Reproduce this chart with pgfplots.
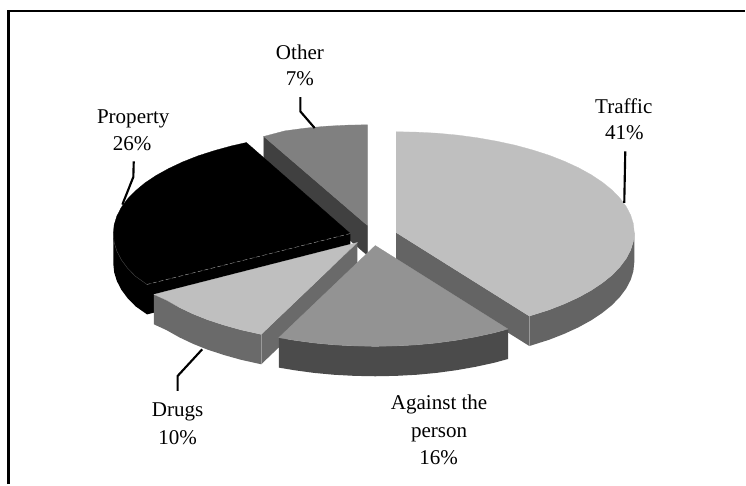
\documentclass[border=0pt]{standalone}
\usepackage{pgfplots}
\usepackage{fontspec}
\setmainfont{Liberation Serif}
\pgfplotsset{compat=1.18}
\definecolor{lightTop}{HTML}{BFBFBF}
\definecolor{midTop}{HTML}{939393}
\definecolor{otherTop}{HTML}{808080}
\definecolor{trafficRim}{HTML}{646464}
\definecolor{personRim}{HTML}{4B4B4B}
\definecolor{drugsRim}{HTML}{6A6A6A}
\definecolor{otherCut}{HTML}{404040}
\definecolor{edgeGrey}{HTML}{9A9A9A}
\begin{document}
\begin{tikzpicture}
\begin{axis}[
  scale only axis, width=559.5pt, height=363.75pt,
  xmin=0, xmax=746, ymin=0, ymax=485, y dir=reverse,
  hide axis, clip=false, no markers,
  every axis plot/.append style={forget plot},
]
% Slices are stacked from back to front: Other, Traffic, Property, Drugs, Against the person.

% --- Other, 7% ---
\addplot[fill=otherCut, draw=otherCut, line width=0.2pt] coordinates {(264.3,136.7)(368.3,226)(368.3,256)(264.3,166.7)} -- cycle;
\addplot[fill=otherTop, draw=otherTop, line width=0.2pt] coordinates {
 (368.3,226)(264.3,136.7)(285.5,131.1)(305.7,128.4)(326.3,126.5)(347.2,125.4)(368.3,125)} -- cycle;

% --- Traffic, 41% ---
\addplot[fill=trafficRim, draw=none] coordinates {(397,233)(530.4,316.7)(530.4,346.7)(397,263)} -- cycle;
\addplot[fill=trafficRim, draw=none] coordinates {
 (635.5,233)(634.6,241.8)(631.9,250.5)(627.4,259.1)(621.1,267.5)(613.2,275.7)(603.5,283.5)(592.4,290.9)
 (579.7,297.9)(565.6,304.4)(550.3,310.4)(530.4,316.7)
 (530.4,346.7)(550.3,340.4)(565.6,334.4)(579.7,327.9)(592.4,320.9)(603.5,313.5)(613.2,305.7)(621.1,297.5)
 (627.4,289.1)(631.9,280.5)(634.6,271.8)(635.5,263)} -- cycle;
\addplot[draw=edgeGrey, line width=0.4pt] coordinates {(530.4,316.7)(530.4,346.7)};
\addplot[fill=lightTop, draw=lightTop, line width=0.2pt] coordinates {
 (397,233)(397,132)(417.8,132.4)(438.4,133.5)(458.7,135.4)(478.6,138.1)(497.8,141.5)(516.3,145.5)(533.8,150.3)
 (550.3,155.6)(565.6,161.6)(579.7,168.1)(592.4,175.1)(603.5,182.5)(613.2,190.3)(621.1,198.5)(627.4,206.9)
 (631.9,215.5)(634.6,224.2)(635.5,233)(634.6,241.8)(631.9,250.5)(627.4,259.1)(621.1,267.5)(613.2,275.7)
 (603.5,283.5)(592.4,290.9)(579.7,297.9)(565.6,304.4)(550.3,310.4)(530.4,316.7)} -- cycle;

% --- Property, 26% ---
\addplot[fill=black, draw=none] coordinates {(351,234)(147.3,285)(147.3,315)(351,264)} -- cycle;
\addplot[fill=black, draw=none] coordinates {
 (113.5,234)(114.4,242.9)(117.1,251.6)(121.6,260.3)(127.8,268.7)(135.8,276.9)(147.3,285)
 (147.3,315)(135.8,306.9)(127.8,298.7)(121.6,290.3)(117.1,281.6)(114.4,272.9)(113.5,264)} -- cycle;
\addplot[fill=black, draw=black, line width=0.2pt] coordinates {
 (351,234)(147.3,285)(135.8,276.9)(127.8,268.7)(121.6,260.3)(117.1,251.6)(114.4,242.9)(113.5,234)(114.4,225.1)
 (117.1,216.4)(121.6,207.7)(127.8,199.3)(135.8,191.1)(145.3,183.2)(156.4,175.8)(169.1,168.8)(183.1,162.2)
 (198.3,156.2)(214.8,150.9)(232.2,146.1)(246.9,142.8)} -- cycle;
\addplot[draw=edgeGrey, line width=0.3pt, densely dashed] coordinates {(351,234)(147.3,285)};
\addplot[draw=otherCut, line width=0.3pt] coordinates {(113.5,234)(114.4,242.9)(117.1,251.6)(121.6,260.3)(127.8,268.7)(135.8,276.9)(147.3,285)};

% --- Drugs, 10% ---
\addplot[fill=drugsRim, draw=none] coordinates {(358,243)(261.7,335)(261.7,365)(358,273)} -- cycle;
\addplot[fill=drugsRim, draw=none] coordinates {
 (261.7,335)(241.5,330.5)(224.4,325.7)(208.2,320.4)(193.2,314.4)(179.5,307.9)(167.1,300.9)(154.3,295)
 (154.3,325)(167.1,330.9)(179.5,337.9)(193.2,344.4)(208.2,350.4)(224.4,355.7)(241.5,360.5)(261.7,365)} -- cycle;
\addplot[draw=edgeGrey, line width=0.4pt] coordinates {(261.7,335)(261.7,365)};
\addplot[fill=lightTop, draw=lightTop, line width=0.2pt] coordinates {
 (358,243)(261.7,335)(241.5,330.5)(224.4,325.7)(208.2,320.4)(193.2,314.4)(179.5,307.9)(167.1,300.9)(154.3,295)} -- cycle;

% --- Against the person, 16% ---
\addplot[fill=personRim, draw=none] coordinates {
 (509,329.7)(495,333.5)(476.6,337.5)(457.4,340.9)(437.6,343.6)(417.3,345.5)(396.7,346.6)(376,347)
 (355.3,346.6)(334.7,345.5)(314.4,343.6)(294.6,340.9)(279.3,338.3)
 (279.3,368.3)(294.6,370.9)(314.4,373.6)(334.7,375.5)(355.3,376.6)(376,377)(396.7,376.6)(417.3,375.5)
 (437.6,373.6)(457.4,370.9)(476.6,367.5)(495,363.5)(509,359.7)} -- cycle;
\addplot[fill=midTop, draw=midTop, line width=0.2pt] coordinates {
 (376,246)(509,329.7)(495,333.5)(476.6,337.5)(457.4,340.9)(437.6,343.6)(417.3,345.5)(396.7,346.6)(376,347)
 (355.3,346.6)(334.7,345.5)(314.4,343.6)(294.6,340.9)(279.3,338.3)} -- cycle;

% --- Leader lines ---
\addplot[black, line width=1.6pt] coordinates {(626.5,151.7)(625.5,203.3)};
\addplot[black, line width=1.6pt] coordinates {(301,97.3)(301,111.7)(315.3,128.3)};
\addplot[black, line width=1.6pt] coordinates {(134,161.7)(133.6,177.3)(122.6,205)};
\addplot[black, line width=1.6pt] coordinates {(178,391.7)(178,376.7)(202.6,350)};

% --- Outer frame: top and left rules ---
\addplot[black, line width=2.2pt] coordinates {(8.3,485)(8.3,11)(746,11)};

% --- Labels, one node per line set on its baseline ---
\newcommand{\lbl}[3]{\node[anchor=base, inner sep=0pt, font=\fontsize{15.8}{19}\selectfont] at (axis cs:#1,#2) {#3};}
\lbl{625}{113.5}{Traffic}
\lbl{625.5}{140}{41\%}
\lbl{300.5}{59.5}{Other}
\lbl{300.5}{86}{7\%}
\lbl{133.5}{123.7}{Property}
\lbl{132.5}{150.3}{26\%}
\lbl{178}{417.7}{Drugs}
\lbl{178}{445.5}{10\%}
\lbl{440}{410.3}{Against the}
\lbl{440}{438}{person}
\lbl{439.5}{465}{16\%}
\path (axis cs:0,0) (axis cs:746,485);
\end{axis}
\end{tikzpicture}
\end{document}
